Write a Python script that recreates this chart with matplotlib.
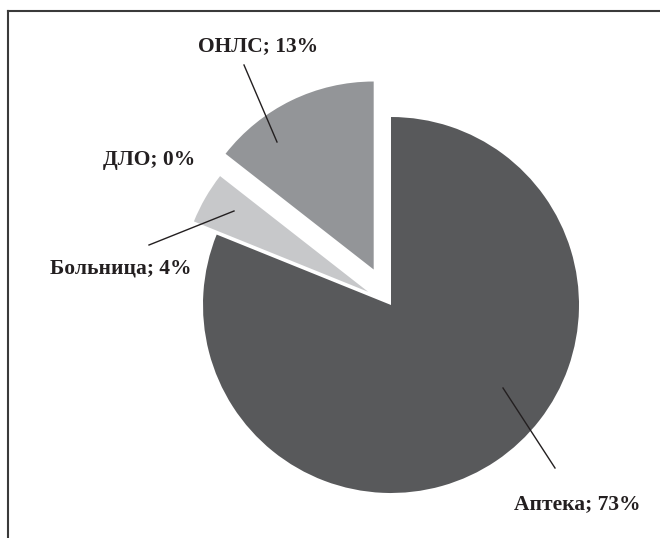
import matplotlib
matplotlib.use("Agg")
import matplotlib.pyplot as plt
from matplotlib.lines import Line2D

# Данные диаграммы (порядок против часовой стрелки от 12 часов)
kategorii = ["ОНЛС", "ДЛО", "Больница", "Аптека"]
dolya = [13, 0, 4, 73]
podpisi = ["ОНЛС; 13%", "ДЛО; 0%", "Больница; 4%", "Аптека; 73%"]
cveta = ["#939598", "#bcbec0", "#c7c8ca", "#58595b"]
vynos = [0.21, 0.15, 0.14, 0.0]

W, H = 660, 538
fig = plt.figure(figsize=(W / 100, H / 100), dpi=100)
ax = fig.add_axes([0, 0, 1, 1])

# центр круга (391, 305) px, радиус 188 px
cx, cy, r = 391, 305, 188

ax.pie(dolya, colors=cveta, explode=vynos, startangle=90, counterclock=True,
       radius=1.0, center=(0, 0), frame=True,
       wedgeprops=dict(linewidth=0))
ax.set_xlim(-cx / r, (W - cx) / r)
ax.set_ylim(-(H - cy) / r, cy / r)
ax.set_aspect("equal")
ax.axis("off")

def px(x, y):
    return ((x - cx) / r, (cy - y) / r)

# подписи и выноски
pos_text = [px(258, 46), px(149, 160), px(121, 268), px(577, 504)]
vynoski = [(px(244, 65), px(277, 142)), None,
           (px(149, 245), px(234, 211)), (px(503, 388), px(555, 468))]

shrift = dict(family="Liberation Serif", weight="bold", size=15.5, color="#231f20")
for t, p, v in zip(podpisi, pos_text, vynoski):
    ax.text(p[0], p[1], t, ha="center", va="center", **shrift)
    if v is not None:
        ax.plot([v[0][0], v[1][0]], [v[0][1], v[1][1]], color="#231f20", lw=1.0)

# рамка (верх и левая сторона видны)
fig.add_artist(Line2D([8 / W, 1.0], [1 - 11 / H, 1 - 11 / H], color="#3a3a3a", lw=1.5))
fig.add_artist(Line2D([8 / W, 8 / W], [0, 1 - 11 / H], color="#3a3a3a", lw=1.5))

fig.savefig("out.png", dpi=100, facecolor="white")
